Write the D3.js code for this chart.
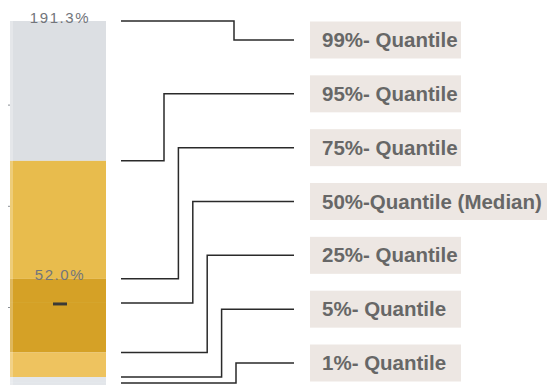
<!DOCTYPE html>
<html>
<head>
<meta charset="utf-8">
<script src="https://cdn.jsdelivr.net/npm/d3@7"></script>
<style>
  html, body { margin: 0; padding: 0; background: #fff; }
  svg { display: block; }
</style>
</head>
<body>
<svg id="chart" width="547" height="385"></svg>
<script>
// Quantile distribution of the return, top to bottom
const quantileLabels = [
  "99%- Quantile",
  "95%- Quantile",
  "75%- Quantile",
  "50%-Quantile (Median)",
  "25%- Quantile",
  "5%- Quantile",
  "1%- Quantile"
];
const quantileValues = [191.3, 122.2, 63.9, 52.0, 27.5, 15.4, 12.5];
// Band fill between one quantile and the next one down
const bandColors = ["#dcdfe3", "#e8bc4d", "#d5a126", "#d5a126", "#eec35f", "#e3e6ea"];
const tickValues = [50, 100, 150];

const W = 547, H = 385;
const svg = d3.select("#chart");

const y = d3.scaleLinear().domain([50, 150]).range([307, 104.6]);
const barX0 = 10, barX1 = 106, barMid = (barX0 + barX1) / 2;

// stacked bands
const bands = quantileValues.slice(0, -1).map((v, i) => ({
  top: v, bottom: quantileValues[i + 1], color: bandColors[i]
}));
// the tail below the lowest quantile keeps the last band colour to the plot floor
bands.push({ top: quantileValues[quantileValues.length - 1], bottom: y.invert(H), color: bandColors[bandColors.length - 1] });

svg.append("g").selectAll("rect").data(bands).join("rect")
  .attr("x", barX0)
  .attr("width", barX1 - barX0)
  .attr("y", d => y(d.top))
  .attr("height", d => y(d.bottom) - y(d.top))
  .attr("fill", d => d.color);

// soft highlight along the left edge of the bar
svg.append("rect")
  .attr("x", barX0).attr("width", 3)
  .attr("y", y(quantileValues[0])).attr("height", H - y(quantileValues[0]))
  .attr("fill", "#fff").attr("opacity", 0.25);

// faint axis ticks
const axis = svg.append("g")
  .attr("transform", `translate(${barX0},0)`)
  .call(d3.axisLeft(y).tickValues(tickValues).tickSize(2).tickFormat(""));
axis.select(".domain").remove();
axis.selectAll("line").attr("stroke", "#8a8f96");

// median marker
const med = quantileValues[3];
svg.append("line")
  .attr("x1", barMid - 5).attr("x2", barMid + 9)
  .attr("y1", y(med) + 1).attr("y2", y(med) + 1)
  .attr("stroke", "#3b3a36").attr("stroke-width", 3);

// value labels on top of the outer and the interquartile segment
const valueLabels = [
  { anchor: quantileValues[0], value: quantileValues[0] },
  { anchor: quantileValues[2], value: med }
];
svg.append("g").selectAll("text").data(valueLabels).join("text")
  .attr("x", barMid + 2)
  .attr("y", d => y(d.anchor) + 1.5)
  .attr("text-anchor", "middle")
  .attr("font-family", "'Liberation Sans', Arial, sans-serif")
  .attr("font-size", 15)
  .attr("letter-spacing", 1.6)
  .attr("fill", "#72757b")
  .text(d => d.value.toFixed(1) + "%");

// label rows
const row = d3.scalePoint().domain(quantileLabels).range([40, 363]);
const lineX0 = 121, lineX1 = 294, boxX = 310, boxW = 151, boxH = 37;

const items = quantileLabels.map((label, i) => ({
  label, value: quantileValues[i], i,
  elbow: i === 0 ? 234 : 164 + (i - 1) * 14.4
}));

svg.append("g").selectAll("path").data(items).join("path")
  .attr("fill", "none")
  .attr("stroke", "#2a2a2a")
  .attr("stroke-width", 1.5)
  .attr("d", d => {
    const y0 = y(d.value), y1 = row(d.label);
    return `M${lineX0},${y0}H${d.elbow}V${y1}H${lineX1}`;
  });

const boxes = svg.append("g").selectAll("g").data(items).join("g")
  .attr("transform", d => `translate(${boxX},${row(d.label) - boxH / 2})`);

boxes.append("rect")
  .attr("width", d => d.i === 3 ? W - boxX : boxW)
  .attr("height", boxH)
  .attr("fill", "#ede7e3");

boxes.append("text")
  .attr("x", 12)
  .attr("y", boxH / 2 + 7)
  .attr("font-family", "'Liberation Sans', Arial, sans-serif")
  .attr("font-weight", "bold")
  .attr("font-size", 20.5)
  .attr("fill", "#676767")
  .text(d => d.label);
</script>
</body>
</html>
